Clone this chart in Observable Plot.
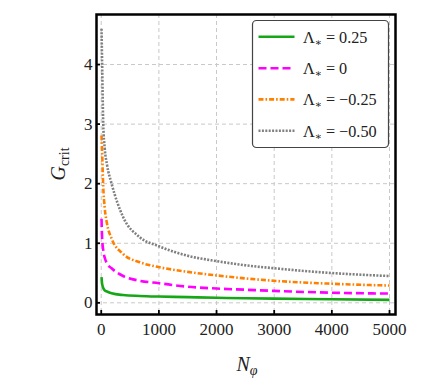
<!DOCTYPE html>
<html>
<head>
<meta charset="utf-8">
<script src="https://cdn.jsdelivr.net/npm/d3@7"></script>
<script src="https://cdn.jsdelivr.net/npm/@observablehq/plot@0.6"></script>
<style>
  html, body { margin: 0; padding: 0; background: #fff; }
  #chart { position: relative; width: 428px; height: 382px; }
</style>
</head>
<body>
<div id="chart"></div>
<script>
// ---- data ----
const N = [5, 15, 35, 60, 100, 180, 380, 670, 1000, 1500, 2000, 2500, 3000, 4000, 5000];
const gLam025  = [0.43, 0.32, 0.25, 0.21, 0.19, 0.16, 0.13, 0.115, 0.105, 0.095, 0.085, 0.077, 0.07, 0.06, 0.05];
const gLam0    = [1.41, 1.10, 0.88, 0.76, 0.66, 0.58, 0.45, 0.37, 0.33, 0.27, 0.24, 0.22, 0.20, 0.17, 0.155];
const gLamM025 = [2.81, 2.55, 1.95, 1.60, 1.33, 1.08, 0.82, 0.68, 0.60, 0.52, 0.46, 0.41, 0.37, 0.32, 0.29];
const gLamM050 = [4.60, 4.05, 3.00, 2.60, 2.32, 2.00, 1.44, 1.10, 0.95, 0.79, 0.70, 0.63, 0.58, 0.50, 0.45];
const seriesNames = ["0.25", "0", "\u22120.25", "\u22120.50"];
const xTicks = [0, 1000, 2000, 3000, 4000, 5000];
const yTicks = [0, 1, 2, 3, 4];

const seriesValues = [gLam025, gLam0, gLamM025, gLamM050];
const styles = [
  {stroke: "#16a716", dash: null},
  {stroke: "#ff00ff", dash: "8,4"},
  {stroke: "#ff8000", dash: "5,2,1.6,2"},
  {stroke: "#808080", dash: "2,1.4"}
];
const rowsOf = (vals) => N.map((n, i) => ({N: n, G: vals[i]}));

const W = 428, H = 382;
const mL = 96, mR = 33, mT = 14, mB = 68;
const innerW = W - mL - mR, innerH = H - mT - mB;
const serif = "Liberation Serif, DejaVu Serif, serif";

const plot = Plot.plot({
  width: W, height: H,
  marginLeft: mL, marginRight: mR, marginTop: mT, marginBottom: mB,
  style: {fontFamily: serif, fontSize: "17px", color: "#222", background: "#fff"},
  x: {domain: [-82, 5104]},
  y: {domain: [-0.196, 4.84]},
  marks: [
    Plot.gridX(xTicks, {stroke: "#c8c8c8", strokeOpacity: 1, strokeDasharray: "4,3", strokeWidth: 1}),
    Plot.gridY(yTicks, {stroke: "#c8c8c8", strokeOpacity: 1, strokeDasharray: "4,3", strokeWidth: 1}),
    ...seriesValues.map((vals, i) => Plot.line(rowsOf(vals), {
      x: "N", y: "G", curve: "monotone-x",
      stroke: styles[i].stroke, strokeWidth: 2.6,
      strokeDasharray: styles[i].dash, strokeLinecap: "butt"
    })),
    Plot.axisX(xTicks, {tickSize: 0, tickPadding: 8, label: null, fontSize: 17, tickFormat: d3.format("d"), fontFamily: serif}),
    Plot.axisY(yTicks, {tickSize: 0, tickPadding: 4, label: null, fontSize: 17, tickFormat: d3.format("d"), fontFamily: serif}),
    Plot.tickX(xTicks, {x: d => d, stroke: "#000", strokeWidth: 1.8, insetTop: innerH - 4}),
    Plot.tickY(yTicks, {y: d => d, stroke: "#000", strokeWidth: 1.8, insetRight: innerW - 4}),
    Plot.frame({stroke: "#000", strokeWidth: 2.5})
  ]
});

document.getElementById("chart").appendChild(plot);

const svg = d3.select(plot);

// axis labels
const gl = svg.append("text")
  .attr("transform", "translate(65,164) rotate(-90)")
  .attr("text-anchor", "middle")
  .attr("font-family", serif).attr("font-size", 20).attr("fill", "#222");
gl.append("tspan").attr("font-style", "italic").text("G");
gl.append("tspan").attr("font-size", 14).attr("dy", 4).text("crit");

const nl = svg.append("text")
  .attr("x", 247).attr("y", 371)
  .attr("text-anchor", "middle")
  .attr("font-family", serif).attr("font-size", 20).attr("fill", "#222");
nl.append("tspan").attr("font-style", "italic").text("N");
nl.append("tspan").attr("font-style", "italic").attr("font-size", 14).attr("dy", 4).text("\u03C6");

// legend
const lg = svg.append("g");
lg.append("rect")
  .attr("x", 252.5).attr("y", 20.5).attr("width", 136).attr("height", 127)
  .attr("rx", 4).attr("ry", 4)
  .attr("fill", "#fff").attr("stroke", "#444").attr("stroke-width", 1.2);
const ys = [36.8, 68.3, 99.4, 130.7];
seriesNames.forEach((name, i) => {
  lg.append("line")
    .attr("x1", 258.5).attr("x2", 294.5).attr("y1", ys[i]).attr("y2", ys[i])
    .attr("stroke", styles[i].stroke).attr("stroke-width", 2.6)
    .attr("stroke-dasharray", styles[i].dash);
  const t = lg.append("text")
    .attr("x", 303).attr("y", ys[i] + 6)
    .attr("text-anchor", "start")
    .attr("font-family", serif).attr("font-size", 16.2).attr("fill", "#222");
  t.append("tspan").text("\u039B");
  t.append("tspan").attr("font-size", 10.5).attr("dy", 3).text("\u2217");
  t.append("tspan").attr("dy", -3).text(" = " + name);
});
</script>
</body>
</html>
